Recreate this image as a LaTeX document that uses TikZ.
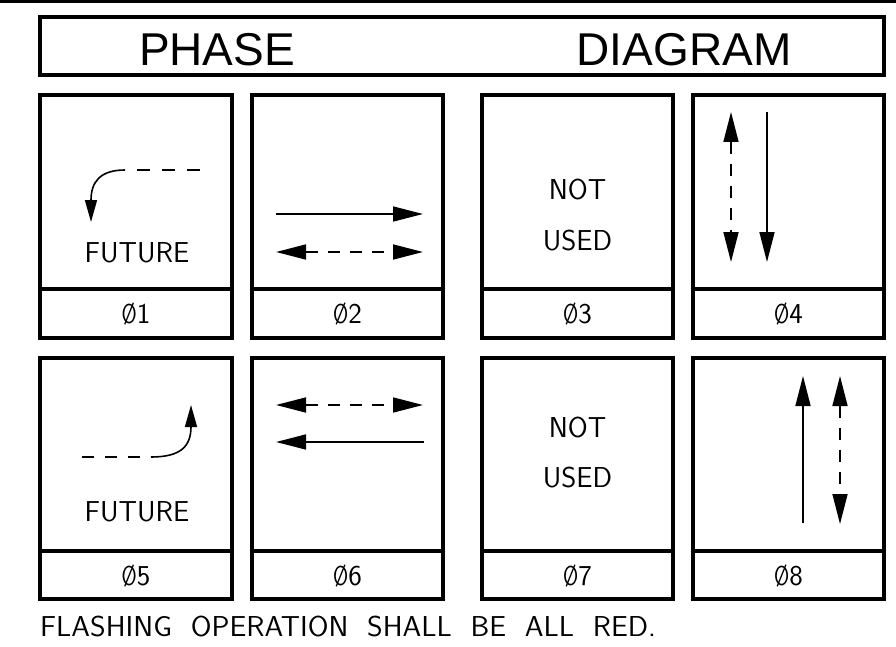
\documentclass[tikz,border=0pt]{standalone}
\usepackage{fontspec}
\newfontfamily\titlefont{Liberation Sans}
\usetikzlibrary{arrows.meta}
\newcommand{\phs}[1]{\scalebox{0.72}[0.95]{Ø}#1}
\tikzset{
  frame/.style={line width=4pt},
  titletext/.style={font=\titlefont\fontsize{46}{50}\selectfont, inner sep=0pt},
  cad/.style={font=\sffamily\fontsize{28.8}{32}\selectfont, inner sep=0pt},
  bigarrow/.style={line width=1.6pt, -{Triangle[length=30pt,width=15pt]}},
  dbarrow/.style={line width=1.6pt, dash pattern=on 12pt off 10pt, {Triangle[length=30pt,width=15pt]}-{Triangle[length=30pt,width=15pt]}},
  dashcad/.style={line width=1.6pt, dash pattern=on 13pt off 12pt},
  curvarrow/.style={line width=1.6pt, -{Triangle[length=22pt,width=12pt]}}
}
\begin{document}
\begin{tikzpicture}[x=1pt,y=-1pt]
\useasboundingbox (0,0) rectangle (896,647);
\fill (0,0) rectangle (896,3.5);
% title
\draw[frame] (40,17) rectangle (884,75);
\node[titletext, anchor=base] (phase) at (217,66) {PHASE};
\node[titletext, anchor=base] (diagram) at (684,66) {DIAGRAM};
% boxes row 1
\foreach \l/\r/\n in {40/232/1, 252/443/2, 482/673/3, 693/884/4} {
  \draw[frame] (\l,95) rectangle (\r,338);
  \draw[frame] (\l,289) -- (\r,289);
  \node[cad, anchor=base] (lab\n) at ({(\l+\r)/2},323) {\phs{\n}};
}
% boxes row 2
\foreach \l/\r/\n in {40/232/5, 252/443/6, 482/673/7, 693/884/8} {
  \draw[frame] (\l,358) rectangle (\r,599);
  \draw[frame] (\l,551) -- (\r,551);
  \node[cad, anchor=base] (lab\n) at ({(\l+\r)/2},585) {\phs{\n}};
}
% phase 1
\node[cad, anchor=base] (fut1) at (137,262) {FUTURE};
\draw[dashcad] (200,170) -- (137,170);
\draw[curvarrow] (125,170) .. controls (100,170) and (91,182) .. (91,222);
% phase 2
\draw[bigarrow] (276,214) -- (423,214);
\draw[dbarrow] (276,252) -- (423,252);
% phase 3
\node[cad, anchor=base] (not3) at (577.5,200) {NOT};
\node[cad, anchor=base] (used3) at (577.5,250) {USED};
% phase 4
\draw[dbarrow] (731,112) -- (731,262);
\draw[bigarrow] (767,112) -- (767,262);
% phase 5
\node[cad, anchor=base] (fut5) at (137,521) {FUTURE};
\draw[dash pattern=on 12pt off 11pt, line width=1.6pt] (82,457) -- (141,457);
\draw[curvarrow] (151,457) .. controls (180,457) and (191,447) .. (191,405);
% phase 6
\draw[dbarrow] (276,405) -- (423,405);
\draw[bigarrow] (424,442) -- (276,442);
% phase 7
\node[cad, anchor=base] (not7) at (577.5,437) {NOT};
\node[cad, anchor=base] (used7) at (577.5,487) {USED};
% phase 8
\draw[bigarrow] (803,523) -- (803,376);
\draw[dbarrow] (840,376) -- (840,524);
% note
\node[cad, anchor=base west] (note) at (40,636) {\scalebox{1.04}[1]{FLASHING\ \ OPERATION\ \ SHALL\ \ BE\ \ ALL\ \ RED.}};
\end{tikzpicture}
\end{document}
